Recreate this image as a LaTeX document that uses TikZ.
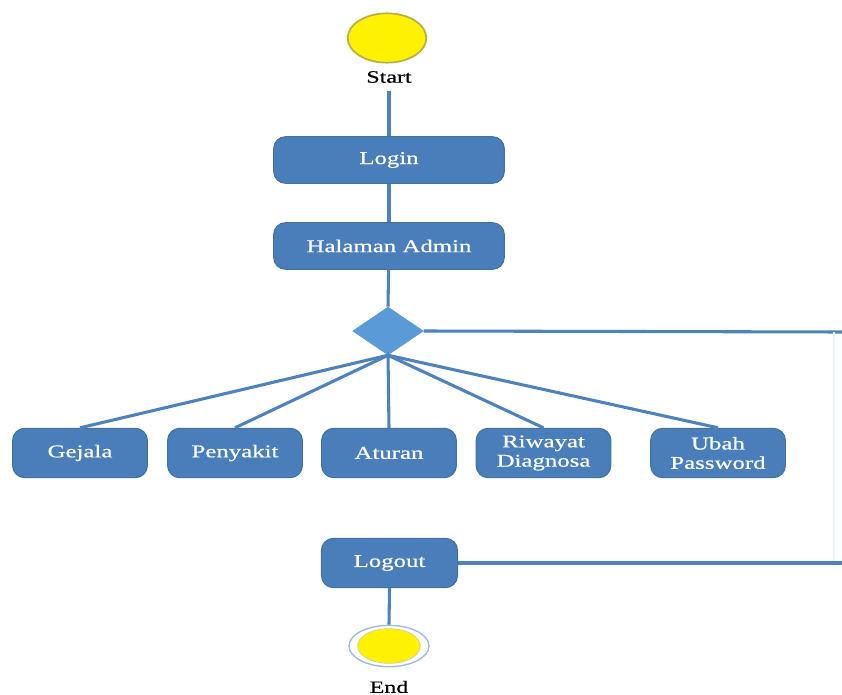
\documentclass[tikz,border=0pt]{standalone}
\usepackage{fontspec}
\setmainfont{Liberation Serif}
\newfontfamily\widefont[FakeStretch=1.38,FakeBold=0.6]{Liberation Serif}
\usetikzlibrary{shapes.geometric}
\definecolor{boxfill}{HTML}{4A7EBB}
\definecolor{boxedge}{HTML}{41719C}
\definecolor{flow}{HTML}{4F81BD}
\definecolor{decfill}{HTML}{5B9BD5}
\definecolor{ringblue}{HTML}{9DB9DD}
\definecolor{dotedge}{HTML}{B8B040}
\tikzset{
  actbox/.style={draw=boxedge, line width=0.8pt, fill=boxfill, rounded corners=9pt,
    text=white, align=center, inner sep=0pt,
    font=\widefont\fontsize{13.5}{14.5}\selectfont},
  flowline/.style={draw=flow, line width=2.3pt},
  lbl/.style={font=\widefont\fontsize{13}{14}\selectfont, text=black, inner sep=0pt},
}
\begin{document}
\begin{tikzpicture}[x=0.75pt, y=-0.75pt]
\useasboundingbox (0,0) rectangle (842,695);
\fill[white] (0,0) rectangle (842,695);

% start marker
\node[ellipse, draw=dotedge, line width=1.3pt, fill=yellow, minimum width=59pt, minimum height=37pt, inner sep=0pt] (start) at (387,38) {};
\node[lbl] (startlbl) at (389,77) {Start};

% main sequence
\node[actbox, minimum width=173pt, minimum height=35pt] (login) at (389,160) {Login};
\node[actbox, minimum width=173pt, minimum height=35pt] (admin) at (389,246) {Halaman Admin};
\node[diamond, fill=decfill, draw=decfill, inner sep=0pt, minimum width=53pt, minimum height=36pt] (menu) at (388,331) {};

% menu entries
\node[actbox, minimum width=101pt, minimum height=37pt] (gejala) at (80,453) {Gejala};
\node[actbox, minimum width=101pt, minimum height=37pt] (penyakit) at (235,453) {Penyakit};
\node[actbox, minimum width=101pt, minimum height=37pt] (aturan) at (389,453) {Aturan};
\node[actbox, minimum width=101pt, minimum height=37pt] (riwayat) at (543.5,453) {Riwayat\\Diagnosa};
\node[actbox, minimum width=101pt, minimum height=37pt] (ubah) at (718,453) {Ubah\\Password};

\node[actbox, minimum width=102pt, minimum height=37pt] (logout) at (389.5,563) {Logout};

% end marker: ring around a filled dot
\node[ellipse, draw=ringblue, line width=1pt, fill=white, minimum width=60pt, minimum height=31pt, inner sep=0pt] (endring) at (389,646) {};
\node[ellipse, draw=dotedge!60, line width=0.6pt, fill=yellow, minimum width=47pt, minimum height=26pt, inner sep=0pt] (enddot) at (389,646) {};
\node[lbl] (endlbl) at (389,687) {End};

% route on the right edge
\coordinate (edgetop) at (842,332);
\coordinate (edgebot) at (842,563);
\coordinate (railtop) at (834,332);
\coordinate (railbot) at (834,563);

% connectors
\draw[flowline] (startlbl.south) ++(0,8) -- (login.north);
\draw[flowline] (login) -- (admin);
\draw[flowline] (admin) -- (menu.north);
\draw[flowline] (menu.south) -- (gejala.north);
\draw[flowline] (menu.south) -- (penyakit.north);
\draw[flowline] (menu.south) -- (aturan.north);
\draw[flowline] (menu.south) -- (riwayat.north);
\draw[flowline] (menu.south) -- (ubah.north);
\draw[flowline] (menu.east) -- (edgetop);
\draw[draw=flow!10, line width=1pt] (railtop) -- (railbot);
\draw[flowline] (logout.east) -- (edgebot);
\draw[flowline] (logout.south) -- (endring.north);
\end{tikzpicture}
\end{document}
